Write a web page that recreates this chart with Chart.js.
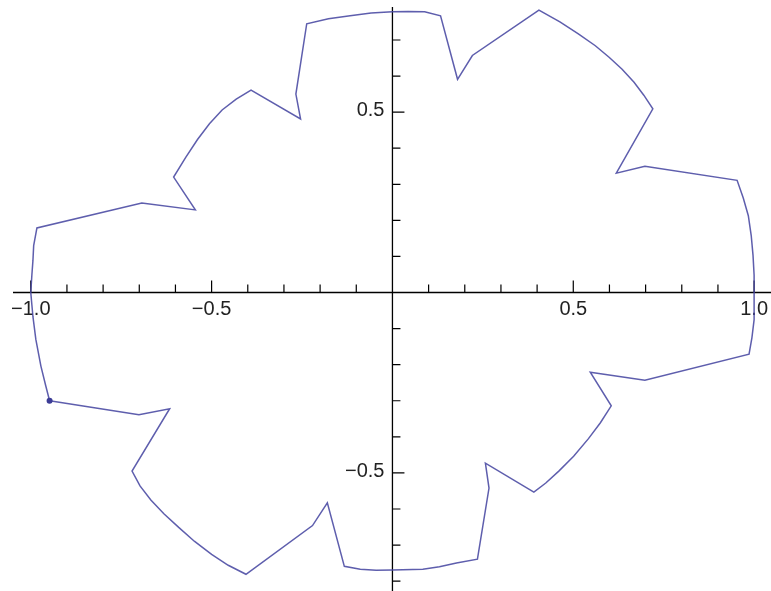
<!DOCTYPE html>
<html>
<head>
<meta charset="utf-8">
<script src="https://cdn.jsdelivr.net/npm/chart.js@4"></script>
<style>
  body { margin: 0; background: #fff; }
  canvas { display: block; }
</style>
</head>
<body>
<canvas id="curva" width="771" height="591"></canvas>
<script>
// vertices of the closed curve, starting at the marked point
const curveX = [-0.948, -0.701, -0.616, -0.720, -0.698, -0.668, -0.632, -0.591, -0.547, -0.500,
  -0.454, -0.405, -0.221, -0.180, -0.133, -0.089, -0.045, 0.0, 0.084, 0.130,
  0.177, 0.235, 0.267, 0.257, 0.391, 0.424, 0.460, 0.501, 0.542, 0.575,
  0.605, 0.547, 0.698, 0.986, 0.994, 1.000, 1.000, 1.000, 1.000, 0.997,
  0.992, 0.984, 0.970, 0.953, 0.698, 0.619, 0.720, 0.695, 0.668, 0.635,
  0.599, 0.561, 0.514, 0.463, 0.405, 0.221, 0.180, 0.133, 0.089, 0.043,
  0.0, -0.059, -0.117, -0.177, -0.237, -0.267, -0.254, -0.391, -0.432, -0.471,
  -0.506, -0.539, -0.572, -0.605, -0.545, -0.693, -0.983, -0.992, -0.994, -0.997,
  -1.000, -0.997, -0.994, -0.986, -0.972, -0.959];
const curveY = [-0.300, -0.339, -0.322, -0.495, -0.536, -0.575, -0.613, -0.651, -0.690, -0.726,
  -0.756, -0.781, -0.646, -0.583, -0.759, -0.767, -0.770, -0.769, -0.767, -0.760,
  -0.750, -0.739, -0.542, -0.473, -0.553, -0.528, -0.495, -0.454, -0.405, -0.361,
  -0.314, -0.221, -0.243, -0.171, -0.125, -0.075, -0.037, 0.000, 0.048, 0.103,
  0.158, 0.213, 0.262, 0.311, 0.350, 0.331, 0.509, 0.547, 0.583, 0.619,
  0.652, 0.684, 0.717, 0.750, 0.783, 0.657, 0.591, 0.767, 0.778, 0.779,
  0.778, 0.775, 0.767, 0.759, 0.745, 0.550, 0.481, 0.561, 0.536, 0.506,
  0.468, 0.424, 0.374, 0.320, 0.229, 0.248, 0.179, 0.130, 0.089, 0.048,
  0.000, -0.034, -0.067, -0.130, -0.204, -0.257];

// labelled ticks
const xTickValues = [-1.0, -0.5, 0.5, 1.0];
const xTickLabels = ["\u22121.0", "\u22120.5", "0.5", "1.0"];
const yTickValues = [-0.5, 0.5];
const yTickLabels = ["\u22120.5", "0.5"];

const points = curveX.map((x, i) => ({ x: x, y: curveY[i] }));
points.push(points[0]); // close the loop

// axes through the origin, Mathematica style: ticks every 0.1, labels every 0.5
const originAxes = {
  id: "originAxes",
  beforeDatasetsDraw(chart) {
    const ctx = chart.ctx;
    const xs = chart.scales.x;
    const ys = chart.scales.y;
    const x0 = xs.getPixelForValue(0);
    const y0 = ys.getPixelForValue(0);
    ctx.save();
    ctx.strokeStyle = "#000";
    ctx.lineWidth = 1.3;
    ctx.beginPath();
    ctx.moveTo(13, y0);
    ctx.lineTo(chart.width, y0);
    ctx.moveTo(x0, 7);
    ctx.lineTo(x0, chart.height);
    ctx.stroke();

    ctx.lineWidth = 1.2;
    ctx.beginPath();
    for (let k = -10; k <= 10; k++) {
      if (k === 0) continue;
      const px = xs.getPixelForValue(k / 10);
      const len = k % 5 === 0 ? 12 : 8;
      ctx.moveTo(px, y0);
      ctx.lineTo(px, y0 - len);
    }
    for (let k = -8; k <= 7; k++) {
      if (k === 0) continue;
      const py = ys.getPixelForValue(k / 10);
      const len = k % 5 === 0 ? 12 : 8;
      ctx.moveTo(x0, py);
      ctx.lineTo(x0 + len, py);
    }
    ctx.stroke();

    ctx.fillStyle = "#222";
    ctx.font = "20px 'Liberation Sans', Arial, sans-serif";
    ctx.textBaseline = "alphabetic";
    ctx.textAlign = "center";
    xTickValues.forEach((v, i) => {
      ctx.fillText(xTickLabels[i], xs.getPixelForValue(v), y0 + 22.5);
    });
    ctx.textAlign = "right";
    yTickValues.forEach((v, i) => {
      ctx.fillText(yTickLabels[i], x0 - 8, ys.getPixelForValue(v) + 4);
    });
    ctx.restore();
  }
};

const config = {
  type: "scatter",
  data: {
    datasets: [
      {
        data: points,
        showLine: true,
        borderColor: "rgba(72, 72, 162, 0.88)",
        backgroundColor: "rgb(60, 60, 150)",
        borderWidth: 1.5,
        tension: 0,
        pointRadius: (c) => (c.dataIndex === 0 ? 3 : 0),
        pointHoverRadius: 0,
        pointBorderWidth: 0,
      },
    ],
  },
  options: {
    responsive: false,
    animation: false,
    layout: { padding: 0 },
    plugins: {
      legend: { display: false },
      tooltip: { enabled: false },
    },
    scales: {
      x: { type: "linear", min: -1.0768, max: 1.0384, display: false },
      y: { type: "linear", min: -0.819, max: 0.8025, display: false },
    },
  },
  plugins: [originAxes],
};
const myChart = new Chart(document.getElementById("curva"), config);
</script>
</body>
</html>
